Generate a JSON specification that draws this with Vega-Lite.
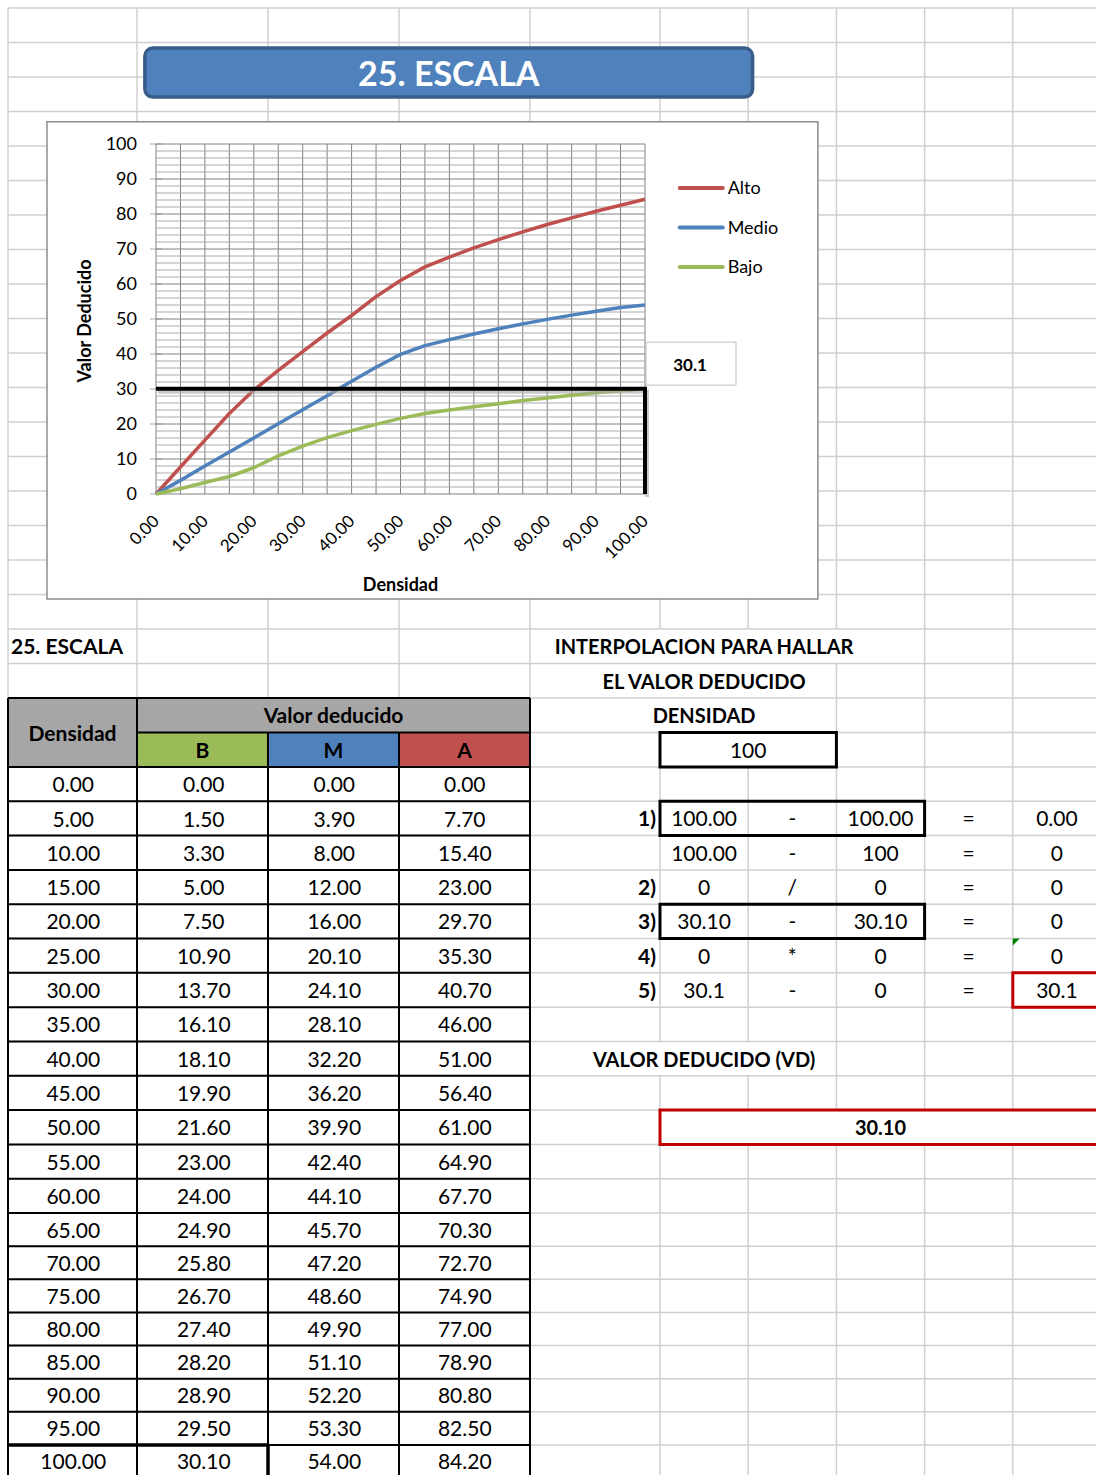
{
"$schema": "https://vega.github.io/schema/vega-lite/v6.json",
"width": 1096, "height": 1475,
"autosize": {"type": "none"},
"padding": 0,
"background": "#FFFFFF",
"config": {"view": {"stroke": null}, "axis": {"disable": true}, "legend": {"disable": true}, "font": "Lato"},
"resolve": {"scale": {"x": "independent", "y": "independent", "color": "independent"}},
"datasets": {
"tabla": [
{"Densidad":0,"B":0,"M":0,"A":0},
{"Densidad":5,"B":1.5,"M":3.9,"A":7.7},
{"Densidad":10,"B":3.3,"M":8.0,"A":15.4},
{"Densidad":15,"B":5.0,"M":12.0,"A":23.0},
{"Densidad":20,"B":7.5,"M":16.0,"A":29.7},
{"Densidad":25,"B":10.9,"M":20.1,"A":35.3},
{"Densidad":30,"B":13.7,"M":24.1,"A":40.7},
{"Densidad":35,"B":16.1,"M":28.1,"A":46.0},
{"Densidad":40,"B":18.1,"M":32.2,"A":51.0},
{"Densidad":45,"B":19.9,"M":36.2,"A":56.4},
{"Densidad":50,"B":21.6,"M":39.9,"A":61.0},
{"Densidad":55,"B":23.0,"M":42.4,"A":64.9},
{"Densidad":60,"B":24.0,"M":44.1,"A":67.7},
{"Densidad":65,"B":24.9,"M":45.7,"A":70.3},
{"Densidad":70,"B":25.8,"M":47.2,"A":72.7},
{"Densidad":75,"B":26.7,"M":48.6,"A":74.9},
{"Densidad":80,"B":27.4,"M":49.9,"A":77.0},
{"Densidad":85,"B":28.2,"M":51.1,"A":78.9},
{"Densidad":90,"B":28.9,"M":52.2,"A":80.8},
{"Densidad":95,"B":29.5,"M":53.3,"A":82.5},
{"Densidad":100,"B":30.1,"M":54.0,"A":84.2}],
"hojaColumnas": [{"col":0},{"col":1},{"col":2},{"col":3},{"col":4},{"col":5},{"col":6},{"col":7},{"col":8},{"col":9}],
"hojaFilas": [{"fila":0},{"fila":1},{"fila":2},{"fila":3},{"fila":4},{"fila":5},{"fila":6},{"fila":7},{"fila":8},{"fila":9},{"fila":10},{"fila":11},{"fila":12},{"fila":13},{"fila":14},{"fila":15},{"fila":16},{"fila":17},{"fila":18},{"fila":19},{"fila":20},{"fila":21},{"fila":22},{"fila":23},{"fila":24},{"fila":25},{"fila":26},{"fila":27},{"fila":28},{"fila":29},{"fila":30},{"fila":31},{"fila":32},{"fila":33},{"fila":34},{"fila":35},{"fila":36},{"fila":37},{"fila":38},{"fila":39},{"fila":40},{"fila":41},{"fila":42}],
"desbordes": [{"fila":18,"fila2":19,"desde":4.5,"hasta":7.5},{"fila":19,"fila2":20,"desde":4.5,"hasta":6.5},{"fila":20,"fila2":21,"desde":4.5,"hasta":6.5},{"fila":30,"fila2":31,"desde":4.5,"hasta":6.5}],
"encabezados": [
{"celda":"Densidad","c1":0,"c2":1,"f1":20,"f2":22,"cx":0,"fy":20.5},
{"celda":"Valor deducido","c1":1,"c2":4,"f1":20,"f2":21,"cx":2,"fy":20},
{"celda":"B","c1":1,"c2":2,"f1":21,"f2":22,"cx":1,"fy":21},
{"celda":"M","c1":2,"c2":3,"f1":21,"f2":22,"cx":2,"fy":21},
{"celda":"A","c1":3,"c2":4,"f1":21,"f2":22,"cx":3,"fy":21}],
"bordes": [
{"c1":0,"c2":4,"f1":20,"f2":20},{"c1":1,"c2":4,"f1":21,"f2":21},
{"c1":0,"c2":4,"f1":22,"f2":22},{"c1":0,"c2":4,"f1":23,"f2":23},{"c1":0,"c2":4,"f1":24,"f2":24},{"c1":0,"c2":4,"f1":25,"f2":25},{"c1":0,"c2":4,"f1":26,"f2":26},{"c1":0,"c2":4,"f1":27,"f2":27},{"c1":0,"c2":4,"f1":28,"f2":28},{"c1":0,"c2":4,"f1":29,"f2":29},{"c1":0,"c2":4,"f1":30,"f2":30},{"c1":0,"c2":4,"f1":31,"f2":31},{"c1":0,"c2":4,"f1":32,"f2":32},{"c1":0,"c2":4,"f1":33,"f2":33},{"c1":0,"c2":4,"f1":34,"f2":34},{"c1":0,"c2":4,"f1":35,"f2":35},{"c1":0,"c2":4,"f1":36,"f2":36},{"c1":0,"c2":4,"f1":37,"f2":37},{"c1":0,"c2":4,"f1":38,"f2":38},{"c1":0,"c2":4,"f1":39,"f2":39},{"c1":0,"c2":4,"f1":40,"f2":40},{"c1":0,"c2":4,"f1":41,"f2":41},{"c1":0,"c2":4,"f1":42,"f2":42},
{"c1":0,"c2":0,"f1":20,"f2":43},{"c1":1,"c2":1,"f1":20,"f2":43},{"c1":2,"c2":2,"f1":21,"f2":43},{"c1":3,"c2":3,"f1":21,"f2":43},{"c1":4,"c2":4,"f1":20,"f2":43}],
"seleccion": [{"c1":0,"c2":2,"f1":42,"f2":42},{"c1":2,"c2":2,"f1":42,"f2":43}],
"cajasBlancas": [{"c1":5,"c2":7,"f1":21,"f2":22}],
"cajasAbiertas": [{"c1":5,"c2":8,"f1":23,"f2":24},{"c1":5,"c2":8,"f1":26,"f2":27}],
"cajasRojas": [{"c1":9,"c2":10,"f1":28,"f2":29},{"c1":5,"c2":10,"f1":32,"f2":33}],
"titulos": [
{"fila":18,"col":5,"texto":"INTERPOLACION PARA HALLAR"},
{"fila":19,"col":5,"texto":"EL VALOR DEDUCIDO"},
{"fila":20,"col":5,"texto":"DENSIDAD"},
{"fila":30,"col":5,"texto":"VALOR DEDUCIDO (VD)"},
{"fila":32,"col":7,"texto":"30.10"}],
"pasos": [{"fila":23,"texto":"1)"},{"fila":25,"texto":"2)"},{"fila":26,"texto":"3)"},{"fila":27,"texto":"4)"},{"fila":28,"texto":"5)"}],
"interpolacion": [
{"fila":21,"col":5.5,"texto":"100"},
{"fila":23,"col":5,"texto":"100.00"},{"fila":23,"col":6,"texto":"-"},{"fila":23,"col":7,"texto":"100.00"},{"fila":23,"col":8,"texto":"="},{"fila":23,"col":9,"texto":"0.00"},
{"fila":24,"col":5,"texto":"100.00"},{"fila":24,"col":6,"texto":"-"},{"fila":24,"col":7,"texto":"100"},{"fila":24,"col":8,"texto":"="},{"fila":24,"col":9,"texto":"0"},
{"fila":25,"col":5,"texto":"0"},{"fila":25,"col":6,"texto":"/"},{"fila":25,"col":7,"texto":"0"},{"fila":25,"col":8,"texto":"="},{"fila":25,"col":9,"texto":"0"},
{"fila":26,"col":5,"texto":"30.10"},{"fila":26,"col":6,"texto":"-"},{"fila":26,"col":7,"texto":"30.10"},{"fila":26,"col":8,"texto":"="},{"fila":26,"col":9,"texto":"0"},
{"fila":27,"col":5,"texto":"0"},{"fila":27,"col":6,"texto":"*"},{"fila":27,"col":7,"texto":"0"},{"fila":27,"col":8,"texto":"="},{"fila":27,"col":9,"texto":"0"},
{"fila":28,"col":5,"texto":"30.1"},{"fila":28,"col":6,"texto":"-"},{"fila":28,"col":7,"texto":"0"},{"fila":28,"col":8,"texto":"="},{"fila":28,"col":9,"texto":"30.1"}],
"rejillaX": [{"Densidad":0},{"Densidad":5},{"Densidad":10},{"Densidad":15},{"Densidad":20},{"Densidad":25},{"Densidad":30},{"Densidad":35},{"Densidad":40},{"Densidad":45},{"Densidad":50},{"Densidad":55},{"Densidad":60},{"Densidad":65},{"Densidad":70},{"Densidad":75},{"Densidad":80},{"Densidad":85},{"Densidad":90},{"Densidad":95},{"Densidad":100}],
"rejillaMenor": [{"v":2},{"v":4},{"v":6},{"v":8},{"v":12},{"v":14},{"v":16},{"v":18},{"v":22},{"v":24},{"v":26},{"v":28},{"v":32},{"v":34},{"v":36},{"v":38},{"v":42},{"v":44},{"v":46},{"v":48},{"v":52},{"v":54},{"v":56},{"v":58},{"v":62},{"v":64},{"v":66},{"v":68},{"v":72},{"v":74},{"v":76},{"v":78},{"v":82},{"v":84},{"v":86},{"v":88},{"v":92},{"v":94},{"v":96},{"v":98}],
"decenas": [{"v":0},{"v":10},{"v":20},{"v":30},{"v":40},{"v":50},{"v":60},{"v":70},{"v":80},{"v":90},{"v":100}],
"marcador": [{"orden":1,"Densidad":0,"VD":30.1},{"orden":2,"Densidad":100,"VD":30.1},{"orden":3,"Densidad":100,"VD":0}],
"leyenda": [{"serie":"Alto"},{"serie":"Medio"},{"serie":"Bajo"}]
},
"layer": [
{"data":{"name":"hojaColumnas"},"mark":{"type":"rule","stroke":"#D0D0D0","strokeWidth":1.5},
 "encoding":{"x":{"field":"col","type":"quantitative","scale":{"domain":[0,1,4,5,10],"range":[8,137,530,660,1101],"nice":false,"zero":false}},
  "y":{"datum":0,"type":"quantitative","scale":{"domain":[0,22,35,43],"range":[8,767,1213,1478],"nice":false,"zero":false}},"y2":{"datum":43}}},
{"data":{"name":"desbordes"},"mark":{"type":"rect","fill":"#FFFFFF"},
 "encoding":{"x":{"field":"desde","type":"quantitative","scale":{"domain":[0,1,4,5,10],"range":[8,137,530,660,1101],"nice":false,"zero":false}},"x2":{"field":"hasta"},
  "y":{"field":"fila","type":"quantitative","scale":{"domain":[0,22,35,43],"range":[8,767,1213,1478],"nice":false,"zero":false}},"y2":{"field":"fila2"}}},
{"data":{"name":"hojaFilas"},"mark":{"type":"rule","stroke":"#D0D0D0","strokeWidth":1.5},
 "encoding":{"y":{"field":"fila","type":"quantitative","scale":{"domain":[0,22,35,43],"range":[8,767,1213,1478],"nice":false,"zero":false}},
  "x":{"datum":0,"type":"quantitative","scale":{"domain":[0,1,4,5,10],"range":[8,137,530,660,1101],"nice":false,"zero":false}},"x2":{"datum":10}}},
{"data":{"values":[{"objeto":"grafico"}]},"mark":{"type":"rect","fill":"#FFFFFF","stroke":"#8C8C8C","strokeWidth":1.5},
 "encoding":{"x":{"datum":0.302,"type":"quantitative","scale":{"domain":[0,1,4,5,10],"range":[8,137,530,660,1101],"nice":false,"zero":false}},"x2":{"datum":6.79},
  "y":{"datum":3.3,"type":"quantitative","scale":{"domain":[0,22,35,43],"range":[8,767,1213,1478],"nice":false,"zero":false}},"y2":{"datum":17.13}}},
{"data":{"values":[{"objeto":"rotulo"}]},"mark":{"type":"rect","fill":"#4F81BD","stroke":"#385D8A","strokeWidth":3.5,"cornerRadius":8},
 "encoding":{"x":{"datum":1.06,"type":"quantitative","scale":{"domain":[0,1,4,5,10],"range":[8,137,530,660,1101],"nice":false,"zero":false}},"x2":{"datum":6.05},
  "y":{"datum":1.16,"type":"quantitative","scale":{"domain":[0,22,35,43],"range":[8,767,1213,1478],"nice":false,"zero":false}},"y2":{"datum":2.58}}},
{"data":{"values":[{"titulo":"25. ESCALA"}]},"mark":{"type":"text","fill":"#FFFFFF","fontWeight":"bold","fontSize":34,"align":"center","baseline":"middle","dy":3},
 "encoding":{"x":{"datum":3.38,"type":"quantitative","scale":{"domain":[0,1,4,5,10],"range":[8,137,530,660,1101],"nice":false,"zero":false}},
  "y":{"datum":1.87,"type":"quantitative","scale":{"domain":[0,22,35,43],"range":[8,767,1213,1478],"nice":false,"zero":false}},"text":{"field":"titulo"}}},
{"data":{"name":"encabezados"},"mark":{"type":"rect"},
 "encoding":{"x":{"field":"c1","type":"quantitative","scale":{"domain":[0,1,4,5,10],"range":[8,137,530,660,1101],"nice":false,"zero":false}},"x2":{"field":"c2"},
  "y":{"field":"f1","type":"quantitative","scale":{"domain":[0,22,35,43],"range":[8,767,1213,1478],"nice":false,"zero":false}},"y2":{"field":"f2"},
  "color":{"field":"celda","type":"nominal","legend":null,"scale":{"domain":["Densidad","Valor deducido","B","M","A"],"range":["#A6A6A6","#A6A6A6","#9BBB59","#4F81BD","#C0504D"]}}}},
{"data":{"name":"encabezados"},"mark":{"type":"text","fontWeight":"bold","fontSize":21,"align":"center","baseline":"middle","dy":2,"fill":"#000000"},
 "encoding":{"x":{"field":"cx","type":"quantitative","scale":{"domain":[-0.5,0.5,3.5,4.5,9.5],"range":[8,137,530,660,1101],"nice":false,"zero":false}},
  "y":{"field":"fy","type":"quantitative","scale":{"domain":[-0.5,21.5,34.5,42.5],"range":[8,767,1213,1478],"nice":false,"zero":false}},"text":{"field":"celda"}}},
{"data":{"name":"tabla"},"transform":[{"fold":["Densidad","B","M","A"],"as":["columna","valor"]}],
 "mark":{"type":"text","fontSize":21,"align":"center","baseline":"middle","dy":2,"fill":"#000000"},
 "encoding":{"x":{"field":"columna","type":"nominal","scale":{"type":"band","domain":["Densidad","B","M","A"],"range":[8,530],"paddingInner":0,"paddingOuter":0}},
  "y":{"field":"Densidad","type":"quantitative","scale":{"domain":[0,62.5,100],"range":[784.2,1213,1461.4],"nice":false,"zero":false}},
  "text":{"field":"valor","type":"quantitative","format":".2f"}}},
{"data":{"name":"bordes"},"mark":{"type":"rule","stroke":"#000000","strokeWidth":2},
 "encoding":{"x":{"field":"c1","type":"quantitative","scale":{"domain":[0,1,4,5,10],"range":[8,137,530,660,1101],"nice":false,"zero":false}},"x2":{"field":"c2"},
  "y":{"field":"f1","type":"quantitative","scale":{"domain":[0,22,35,43],"range":[8,767,1213,1478],"nice":false,"zero":false}},"y2":{"field":"f2"}}},
{"data":{"name":"seleccion"},"mark":{"type":"rule","stroke":"#000000","strokeWidth":3.5},
 "encoding":{"x":{"field":"c1","type":"quantitative","scale":{"domain":[0,1,4,5,10],"range":[8,137,530,660,1101],"nice":false,"zero":false}},"x2":{"field":"c2"},
  "y":{"field":"f1","type":"quantitative","scale":{"domain":[0,22,35,43],"range":[8,767,1213,1478],"nice":false,"zero":false}},"y2":{"field":"f2"}}},
{"data":{"name":"cajasBlancas"},"mark":{"type":"rect","fill":"#FFFFFF","stroke":"#000000","strokeWidth":3},
 "encoding":{"x":{"field":"c1","type":"quantitative","scale":{"domain":[0,1,4,5,10],"range":[8,137,530,660,1101],"nice":false,"zero":false}},"x2":{"field":"c2"},
  "y":{"field":"f1","type":"quantitative","scale":{"domain":[0,22,35,43],"range":[8,767,1213,1478],"nice":false,"zero":false}},"y2":{"field":"f2"}}},
{"data":{"name":"cajasAbiertas"},"mark":{"type":"rect","fill":null,"fillOpacity":0,"stroke":"#000000","strokeWidth":3},
 "encoding":{"x":{"field":"c1","type":"quantitative","scale":{"domain":[0,1,4,5,10],"range":[8,137,530,660,1101],"nice":false,"zero":false}},"x2":{"field":"c2"},
  "y":{"field":"f1","type":"quantitative","scale":{"domain":[0,22,35,43],"range":[8,767,1213,1478],"nice":false,"zero":false}},"y2":{"field":"f2"}}},
{"data":{"name":"cajasRojas"},"mark":{"type":"rect","fill":"#FFFFFF","stroke":"#C00000","strokeWidth":3},
 "encoding":{"x":{"field":"c1","type":"quantitative","scale":{"domain":[0,1,4,5,10],"range":[8,137,530,660,1101],"nice":false,"zero":false}},"x2":{"field":"c2"},
  "y":{"field":"f1","type":"quantitative","scale":{"domain":[0,22,35,43],"range":[8,767,1213,1478],"nice":false,"zero":false}},"y2":{"field":"f2"}}},
{"data":{"values":[{"texto":"25. ESCALA","col":0,"fila":18}]},"mark":{"type":"text","fontWeight":"bold","fontSize":21,"align":"left","baseline":"middle","dx":3,"dy":2,"fill":"#000000"},
 "encoding":{"x":{"field":"col","type":"quantitative","scale":{"domain":[0,1,4,5,10],"range":[8,137,530,660,1101],"nice":false,"zero":false}},
  "y":{"field":"fila","type":"quantitative","scale":{"domain":[-0.5,21.5,34.5,42.5],"range":[8,767,1213,1478],"nice":false,"zero":false}},"text":{"field":"texto"}}},
{"data":{"name":"titulos"},"mark":{"type":"text","fontWeight":"bold","fontSize":20,"align":"center","baseline":"middle","dy":2,"fill":"#000000"},
 "encoding":{"x":{"field":"col","type":"quantitative","scale":{"domain":[-0.5,0.5,3.5,4.5,9.5],"range":[8,137,530,660,1101],"nice":false,"zero":false}},
  "y":{"field":"fila","type":"quantitative","scale":{"domain":[-0.5,21.5,34.5,42.5],"range":[8,767,1213,1478],"nice":false,"zero":false}},"text":{"field":"texto"}}},
{"data":{"name":"pasos"},"mark":{"type":"text","fontWeight":"bold","fontSize":21,"align":"right","baseline":"middle","dx":-4,"dy":2,"fill":"#000000"},
 "encoding":{"x":{"datum":5,"type":"quantitative","scale":{"domain":[0,1,4,5,10],"range":[8,137,530,660,1101],"nice":false,"zero":false}},
  "y":{"field":"fila","type":"quantitative","scale":{"domain":[-0.5,21.5,34.5,42.5],"range":[8,767,1213,1478],"nice":false,"zero":false}},"text":{"field":"texto"}}},
{"data":{"name":"interpolacion"},"mark":{"type":"text","fontSize":21,"align":"center","baseline":"middle","dy":2,"fill":"#000000"},
 "encoding":{"x":{"field":"col","type":"quantitative","scale":{"domain":[-0.5,0.5,3.5,4.5,9.5],"range":[8,137,530,660,1101],"nice":false,"zero":false}},
  "y":{"field":"fila","type":"quantitative","scale":{"domain":[-0.5,21.5,34.5,42.5],"range":[8,767,1213,1478],"nice":false,"zero":false}},"text":{"field":"texto"}}},
{"data":{"values":[{"celda":"J27"}]},"mark":{"type":"point","shape":"M0,0L1,0L0,1Z","size":196,"filled":true,"fill":"#008000","strokeWidth":0,"opacity":1},
 "encoding":{"x":{"datum":9,"type":"quantitative","scale":{"domain":[0,1,4,5,10],"range":[8,137,530,660,1101],"nice":false,"zero":false}},
  "y":{"datum":27,"type":"quantitative","scale":{"domain":[0,22,35,43],"range":[8,767,1213,1478],"nice":false,"zero":false}}}},
{"data":{"name":"rejillaX"},"mark":{"type":"rule","stroke":"#808080","strokeWidth":1},
 "encoding":{"x":{"field":"Densidad","type":"quantitative","scale":{"domain":[0,100],"range":[156,645],"nice":false,"zero":false}},
  "y":{"datum":0,"type":"quantitative","scale":{"domain":[0,100],"range":[494,144],"nice":false,"zero":false}},"y2":{"datum":100}}},
{"data":{"name":"rejillaMenor"},"mark":{"type":"rule","stroke":"#ABABAB","strokeWidth":1},
 "encoding":{"y":{"field":"v","type":"quantitative","scale":{"domain":[0,100],"range":[494,144],"nice":false,"zero":false}},
  "x":{"datum":0,"type":"quantitative","scale":{"domain":[0,100],"range":[156,645],"nice":false,"zero":false}},"x2":{"datum":100}}},
{"data":{"name":"decenas"},"mark":{"type":"rule","stroke":"#808080","strokeWidth":1},
 "encoding":{"y":{"field":"v","type":"quantitative","scale":{"domain":[0,100],"range":[494,144],"nice":false,"zero":false}},
  "x":{"datum":0,"type":"quantitative","scale":{"domain":[0,100],"range":[156,645],"nice":false,"zero":false}},"x2":{"datum":100}}},
{"data":{"name":"decenas"},"mark":{"type":"tick","orient":"horizontal","size":12,"thickness":1,"color":"#808080"},
 "encoding":{"y":{"field":"v","type":"quantitative","scale":{"domain":[0,100],"range":[494,144],"nice":false,"zero":false}},
  "x":{"datum":0,"type":"quantitative","scale":{"domain":[0,100],"range":[156,645],"nice":false,"zero":false}}}},
{"data":{"name":"tabla"},"mark":{"type":"line","stroke":"#C0504D","strokeWidth":3.5,"strokeJoin":"round"},
 "encoding":{"x":{"field":"Densidad","type":"quantitative","scale":{"domain":[0,100],"range":[156,645],"nice":false,"zero":false}},
  "y":{"field":"A","type":"quantitative","scale":{"domain":[0,100],"range":[494,144],"nice":false,"zero":false}}}},
{"data":{"name":"tabla"},"mark":{"type":"line","stroke":"#4F81BD","strokeWidth":3.5,"strokeJoin":"round"},
 "encoding":{"x":{"field":"Densidad","type":"quantitative","scale":{"domain":[0,100],"range":[156,645],"nice":false,"zero":false}},
  "y":{"field":"M","type":"quantitative","scale":{"domain":[0,100],"range":[494,144],"nice":false,"zero":false}}}},
{"data":{"name":"tabla"},"mark":{"type":"line","stroke":"#9BBB59","strokeWidth":3.5,"strokeJoin":"round"},
 "encoding":{"x":{"field":"Densidad","type":"quantitative","scale":{"domain":[0,100],"range":[156,645],"nice":false,"zero":false}},
  "y":{"field":"B","type":"quantitative","scale":{"domain":[0,100],"range":[494,144],"nice":false,"zero":false}}}},
{"data":{"name":"marcador"},"mark":{"type":"point","shape":"M0.02,-0.93H1.82V-0.07H0.02Z","size":10000,"filled":true,"fill":"#FFFFFF","stroke":"#BFBFBF","strokeWidth":1,"opacity":1},
 "transform":[{"filter":"datum.orden == 2"}],
 "encoding":{"x":{"field":"Densidad","type":"quantitative","scale":{"domain":[0,100],"range":[156,645],"nice":false,"zero":false}},
  "y":{"field":"VD","type":"quantitative","scale":{"domain":[0,100],"range":[494,144],"nice":false,"zero":false}}}},
{"data":{"name":"marcador"},"mark":{"type":"line","stroke":"#A6A6A6","strokeOpacity":0.6,"strokeWidth":4,"yOffset":3,"xOffset":2},
 "encoding":{"x":{"field":"Densidad","type":"quantitative","scale":{"domain":[0,100],"range":[156,645],"nice":false,"zero":false}},
  "y":{"field":"VD","type":"quantitative","scale":{"domain":[0,100],"range":[494,144],"nice":false,"zero":false}},"order":{"field":"orden"}}},
{"data":{"name":"marcador"},"mark":{"type":"line","stroke":"#000000","strokeWidth":4,"strokeJoin":"miter"},
 "encoding":{"x":{"field":"Densidad","type":"quantitative","scale":{"domain":[0,100],"range":[156,645],"nice":false,"zero":false}},
  "y":{"field":"VD","type":"quantitative","scale":{"domain":[0,100],"range":[494,144],"nice":false,"zero":false}},"order":{"field":"orden"}}},
{"data":{"name":"marcador"},"transform":[{"filter":"datum.orden == 2"}],"mark":{"type":"text","fontWeight":"bold","fontSize":17,"align":"center","baseline":"middle","dx":45,"dy":-23,"fill":"#000000"},
 "encoding":{"x":{"field":"Densidad","type":"quantitative","scale":{"domain":[0,100],"range":[156,645],"nice":false,"zero":false}},
  "y":{"field":"VD","type":"quantitative","scale":{"domain":[0,100],"range":[494,144],"nice":false,"zero":false}},"text":{"field":"VD","type":"quantitative","format":".1f"}}},
{"data":{"name":"decenas"},"mark":{"type":"text","fontSize":18,"align":"right","baseline":"middle","dx":-19,"dy":1,"fill":"#000000"},
 "encoding":{"y":{"field":"v","type":"quantitative","scale":{"domain":[0,100],"range":[494,144],"nice":false,"zero":false}},
  "x":{"datum":0,"type":"quantitative","scale":{"domain":[0,100],"range":[156,645],"nice":false,"zero":false}},"text":{"field":"v","type":"quantitative","format":"d"}}},
{"data":{"name":"decenas"},"mark":{"type":"text","fontSize":17,"align":"right","baseline":"middle","angle":315,"dx":-17,"dy":18,"fill":"#000000"},
 "encoding":{"x":{"field":"v","type":"quantitative","scale":{"domain":[0,100],"range":[156,645],"nice":false,"zero":false}},
  "y":{"datum":0,"type":"quantitative","scale":{"domain":[0,100],"range":[494,144],"nice":false,"zero":false}},"text":{"field":"v","type":"quantitative","format":".2f"}}},
{"data":{"values":[{"titulo":"Valor Deducido"}]},"mark":{"type":"text","fontWeight":"bold","fontSize":18,"align":"center","baseline":"middle","angle":270,"dx":-2,"dy":-70,"fill":"#000000"},
 "encoding":{"x":{"datum":0,"type":"quantitative","scale":{"domain":[0,100],"range":[156,645],"nice":false,"zero":false}},
  "y":{"datum":50,"type":"quantitative","scale":{"domain":[0,100],"range":[494,144],"nice":false,"zero":false}},"text":{"field":"titulo"}}},
{"data":{"values":[{"titulo":"Densidad"}]},"mark":{"type":"text","fontWeight":"bold","fontSize":18,"align":"center","baseline":"middle","dy":92,"fill":"#000000"},
 "encoding":{"x":{"datum":50,"type":"quantitative","scale":{"domain":[0,100],"range":[156,645],"nice":false,"zero":false}},
  "y":{"datum":0,"type":"quantitative","scale":{"domain":[0,100],"range":[494,144],"nice":false,"zero":false}},"text":{"field":"titulo"}}},
{"data":{"name":"leyenda"},"mark":{"type":"rule","strokeWidth":4,"strokeCap":"round"},
 "encoding":{"x":{"datum":107.1,"type":"quantitative","scale":{"domain":[0,100],"range":[156,645],"nice":false,"zero":false}},"x2":{"datum":115.9},
  "y":{"field":"serie","type":"nominal","scale":{"type":"point","domain":["Alto","Medio","Bajo"],"range":[188,267],"padding":0}},
  "color":{"field":"serie","type":"nominal","legend":null,"scale":{"domain":["Alto","Medio","Bajo"],"range":["#C0504D","#4F81BD","#9BBB59"]}}}},
{"data":{"name":"leyenda"},"mark":{"type":"text","fontSize":18,"align":"left","baseline":"middle","dy":1,"fill":"#000000"},
 "encoding":{"x":{"datum":116.9,"type":"quantitative","scale":{"domain":[0,100],"range":[156,645],"nice":false,"zero":false}},
  "y":{"field":"serie","type":"nominal","scale":{"type":"point","domain":["Alto","Medio","Bajo"],"range":[188,267],"padding":0}},"text":{"field":"serie"}}}
]
}
